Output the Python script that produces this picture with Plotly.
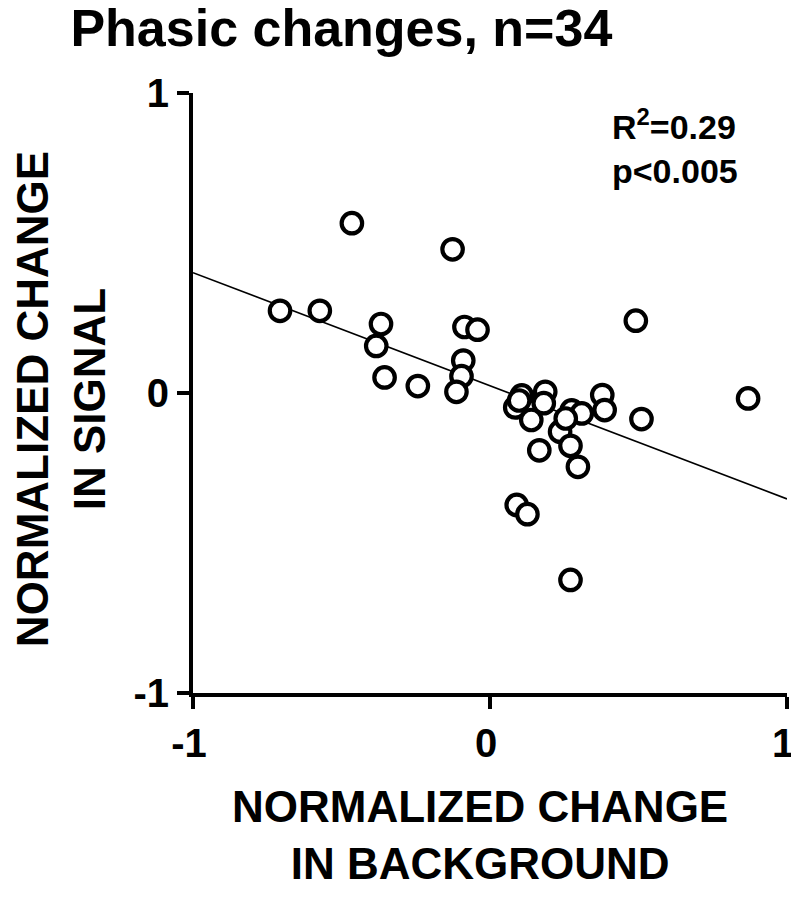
import plotly.graph_objects as go

# Data
bg_change = [-0.707, -0.573, -0.465, -0.367, -0.383, -0.355, -0.243, -0.126,
             -0.086, -0.042, -0.090, -0.096, -0.113,
             0.085, 0.107, 0.186, 0.181, 0.139, 0.236, 0.271, 0.296, 0.166,
             0.275, 0.309, 0.378, 0.386, 0.491, 0.869, 0.510, 0.090, 0.126,
             0.271, 0.255, 0.098]
sig_change = [0.274, 0.274, 0.566, 0.230, 0.157, 0.052, 0.023, 0.479,
              0.220, 0.211, 0.108, 0.056, 0.004,
              -0.048, -0.008, 0.004, -0.034, -0.090, -0.129, -0.176, -0.246, -0.191,
              -0.058, -0.068, -0.007, -0.057, 0.241, -0.018, -0.087, -0.373, -0.404,
              -0.623, -0.085, -0.025]
fit_x = [-1, 1]
fit_y = [0.401, -0.353]
tick_vals = [-1, 0, 1]
tick_text = ["-1", "0", "1"]

title_text = "Phasic changes, n=34"
x_title = "NORMALIZED CHANGE<br>IN BACKGROUND"
y_title = "NORMALIZED CHANGE<br>IN SIGNAL"
stats_text = "R<sup>2</sup>=0.29<br>p<0.005"

FONT = "Liberation Sans, Arial, sans-serif"

fig = go.Figure()
fig.add_trace(go.Scatter(x=fit_x, y=fit_y, mode="lines",
                         line=dict(color="black", width=1.6),
                         showlegend=False, hoverinfo="skip"))
fig.add_trace(go.Scatter(x=bg_change, y=sig_change, mode="markers",
                         marker=dict(symbol="circle", size=20.5, color="white",
                                     line=dict(color="black", width=4.2)),
                         showlegend=False))

axis_common = dict(
    range=[-1, 1], tickvals=tick_vals, ticktext=tick_text,
    showgrid=False, zeroline=False, showline=True, linecolor="black",
    linewidth=4, ticks="outside", ticklen=12, tickwidth=4, tickcolor="black",
    tickfont=dict(family=FONT, size=40, color="black", weight="bold"),
    automargin=False, ticklabeloverflow="allow",
)

fig.update_layout(
    width=791, height=900,
    margin=dict(l=193, r=4, t=93, b=207),
    paper_bgcolor="white", plot_bgcolor="white",
    title=dict(text="<b>" + title_text + "</b>", x=0.089, xanchor="left",
               y=0.989, yanchor="top",
               font=dict(family=FONT, size=52, color="black")),
    xaxis=dict(**axis_common, ticklabelshift=-4),
    yaxis=dict(**axis_common),
    annotations=[
        dict(text="<b>" + stats_text + "</b>", xref="paper", yref="paper",
             x=0.702, y=0.986, xanchor="left", yanchor="top",
             align="left", showarrow=False,
             font=dict(family=FONT, size=34, color="black")),
        dict(text="<b>" + x_title + "</b>", xref="paper", yref="paper",
             x=0.483, y=-0.145, xanchor="center", yanchor="top",
             align="center", showarrow=False,
             font=dict(family=FONT, size=44, color="black")),
        dict(text="<b>" + y_title + "</b>", xref="paper", yref="paper",
             x=-0.222, y=0.49, xanchor="center", yanchor="middle",
             align="center", showarrow=False, textangle=-90,
             font=dict(family=FONT, size=44, color="black")),
    ],
)

fig.write_html("out.html",
               config={"displayModeBar": False},
               post_script="document.body.style.margin='0';"
                           "document.body.style.overflow='hidden';")
